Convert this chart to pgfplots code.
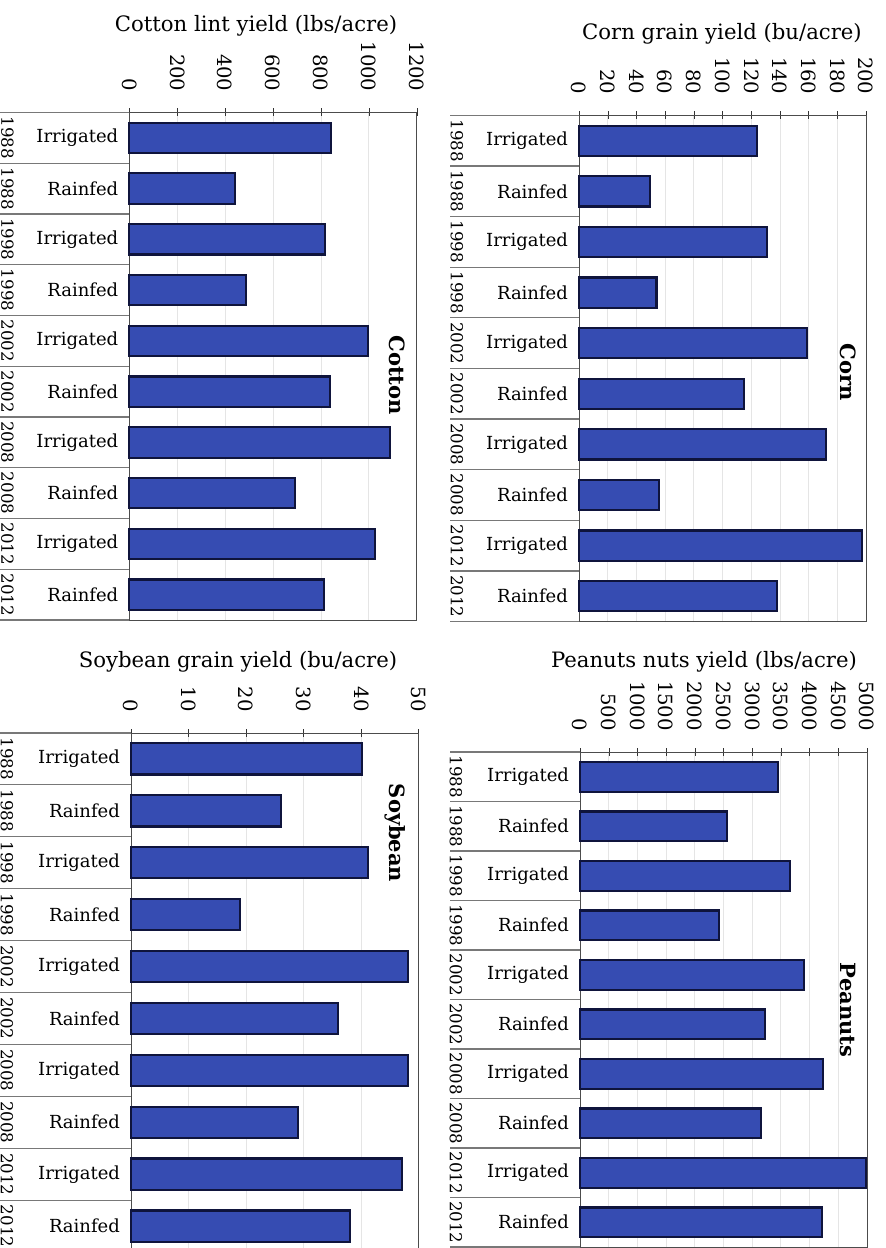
\documentclass[border=0pt]{standalone}
\usepackage{fontspec}
\setmainfont{DejaVu Serif}
\usepackage{pgfplots}
\pgfplotsset{compat=1.18}
\usetikzlibrary{calc}
\definecolor{barfill}{RGB}{54,76,178}
\definecolor{baredge}{RGB}{15,20,60}
\definecolor{tabline}{RGB}{120,120,120}

\pgfplotsset{panel/.style={
  scale only axis, xbar, bar width=0.6,
  y dir=reverse, ymin=-0.5, ymax=9.5,
  xmin=0,
  ytick={0,...,9},
  yticklabels={Irrigated,Rainfed,Irrigated,Rainfed,Irrigated,Rainfed,Irrigated,Rainfed,Irrigated,Rainfed},
  yticklabel style={font=\fontsize{9}{10}\selectfont, anchor=east, xshift=0pt},
  ytick style={draw=none},
  xtick pos=right, xticklabel pos=right,
  xticklabel style={yshift=5pt, rotate=-90, anchor=east, font=\fontsize{9.8}{10}\selectfont},
  /pgf/number format/assume math mode=true,
  /pgf/number format/1000 sep={},
  tick align=center, major tick length=4pt,
  xtick style={black!80},
  xmajorgrids, major grid style={black!10},
  axis line style={black!70},
  clip=false,
  anchor=north west,
}}
\pgfplotsset{bars/.style={fill=barfill, draw=baredge, line width=1.1pt}}

\newcommand{\tabledeco}[3]{%
  \foreach \k in {0,...,10}{
    \draw[tabline, line width=0.6pt] ($(#1.north west)!\k/10!(#1.south west)$) -- ++(-#2,0);
  }
  \foreach \k/\yr in {0/1988,1/1988,2/1998,3/1998,4/2002,5/2002,6/2008,7/2008,8/2012,9/2012}{
    \node[rotate=-90, font=\fontsize{8.3}{9}\selectfont, inner sep=0pt] at ($(#1.north west)!{(\k+0.5)/10}!(#1.south west)+(-#3,0)$) {\yr};
  }
}
\newcommand{\ttl}{\fontsize{10.6}{12}\selectfont}
\newcommand{\pnl}{\fontsize{10.5}{12}\selectfont\bfseries}

\begin{document}
\begin{tikzpicture}
\useasboundingbox (0,0) rectangle (443pt,624pt);

% Cotton
\begin{axis}[panel, name=cotton, at={(64.65pt,567.75pt)}, width=143.7pt, height=253.75pt,
  xmax=1200, xtick={0,200,...,1200}]
\addplot[bars] coordinates {(842,0) (442,1) (817,2) (487,3) (996,4) (837,5) (1087,6) (692,7) (1025,8) (812,9)};
\end{axis}
\tabledeco{cotton}{64.65pt}{61pt}
\node[anchor=base, font=\ttl] at (128pt,608pt) {Cotton lint yield (lbs/acre)};
\node[rotate=-90, font=\pnl] at (198.5pt,436.5pt) {Cotton};

% Corn
\begin{axis}[panel, name=corn, at={(289.5pt,566.25pt)}, width=143.5pt, height=253pt,
  xmax=200, xtick={0,20,...,200}]
\addplot[bars] coordinates {(124,0) (49.5,1) (131,2) (54,3) (159,4) (115,5) (172,6) (56,7) (197,8) (138,9)};
\end{axis}
\tabledeco{corn}{64.5pt}{61pt}
\node[anchor=base, font=\ttl] at (361pt,604pt) {Corn grain yield (bu/acre)};
\node[rotate=-90, font=\pnl] at (424pt,438pt) {Corn};

% Soybean
\begin{axis}[panel, name=soy, at={(65.5pt,257.5pt)}, width=143.85pt, height=259.5pt,
  xmax=50, xtick={0,10,...,50}]
\addplot[bars] coordinates {(40.1,0) (26.1,1) (41.2,2) (19,3) (48.2,4) (36,5) (48.2,6) (29,7) (47.1,8) (38.1,9)};
\end{axis}
\tabledeco{soy}{65.5pt}{62pt}
\node[anchor=base, font=\ttl] at (119pt,290pt) {Soybean grain yield (bu/acre)};
\node[rotate=-90, font=\pnl] at (197.5pt,207.5pt) {Soybean};

% Peanuts
\begin{axis}[panel, name=pea, at={(290pt,248pt)}, width=143.5pt, height=247.5pt,
  xmax=5000, xtick={0,500,...,5000}]
\addplot[bars] coordinates {(3450,0) (2561,1) (3659,2) (2422,3) (3902,4) (3223,5) (4233,6) (3153,7) (4983,8) (4216,9)};
\end{axis}
\tabledeco{pea}{65pt}{62pt}
\node[anchor=base, font=\ttl] at (352pt,290pt) {Peanuts nuts yield (lbs/acre)};
\node[rotate=-90, font=\pnl] at (424pt,119pt) {Peanuts};
\end{tikzpicture}
\end{document}
